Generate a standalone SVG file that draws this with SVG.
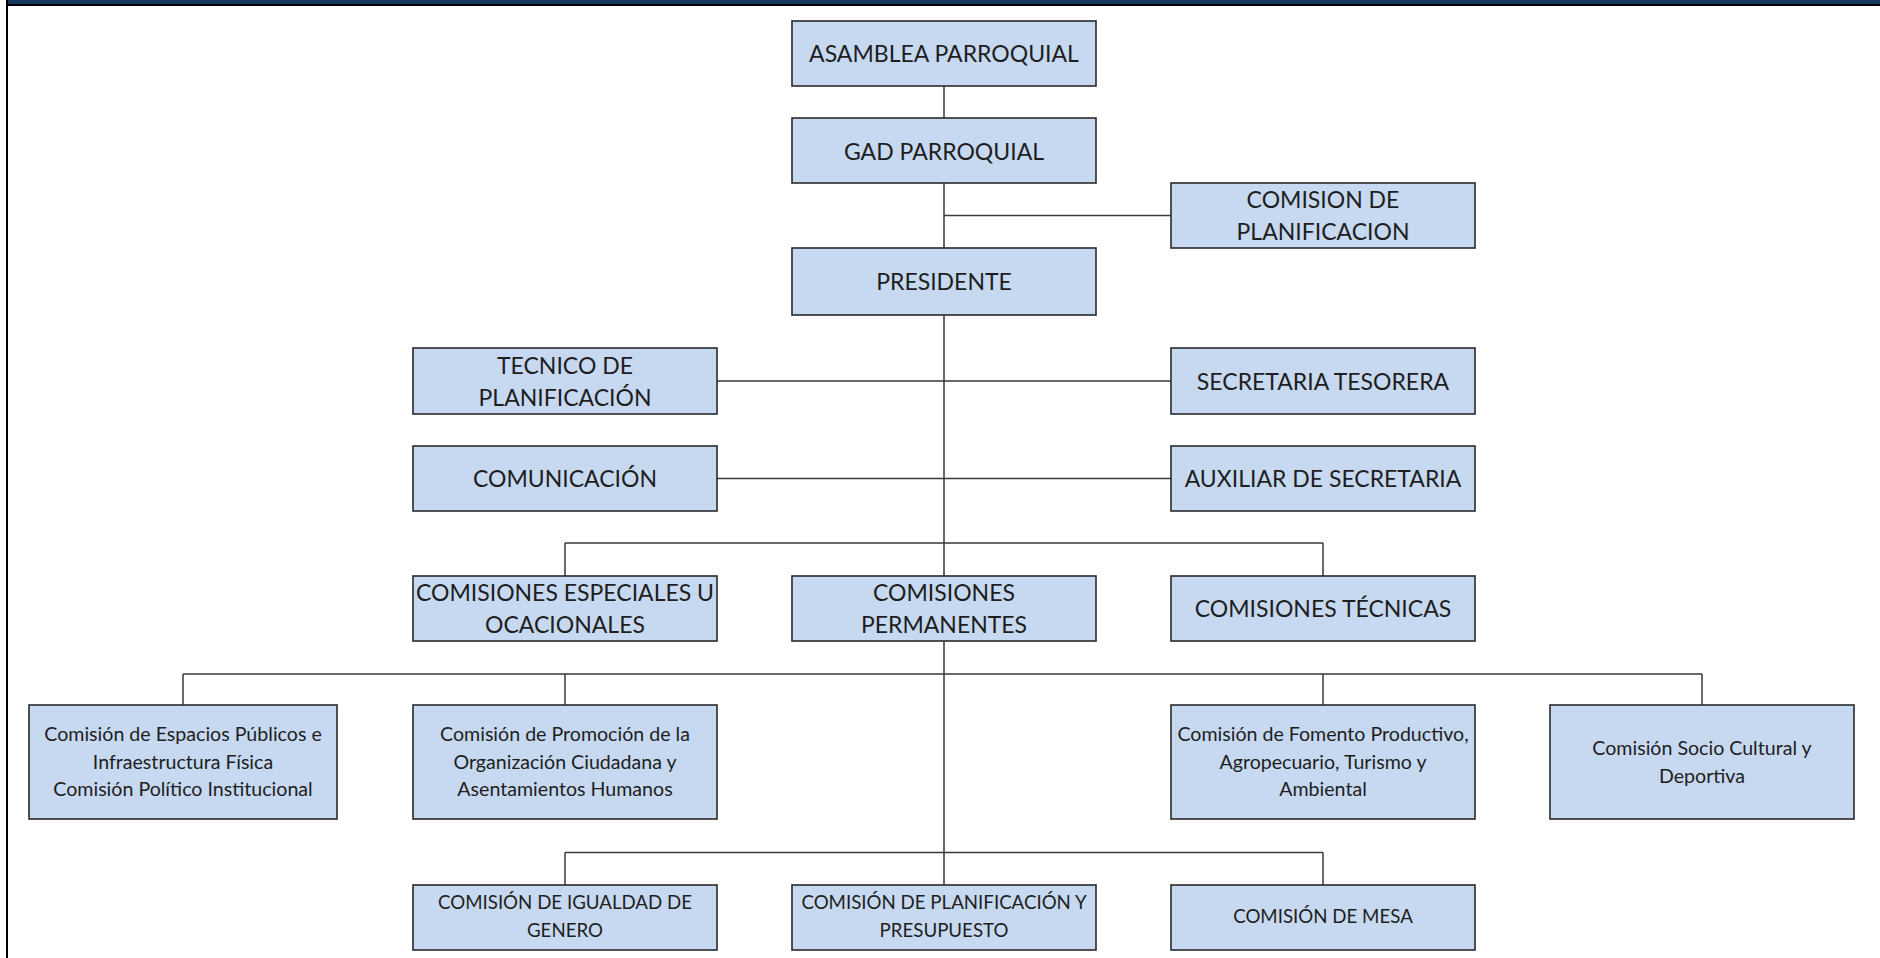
<svg xmlns="http://www.w3.org/2000/svg" width="1880" height="958" viewBox="0 0 1880 958">
<style>
.box{fill:#C6D9F1;stroke:#2a2a2a;stroke-width:1.6}
.ln{stroke:#3a3a3a;stroke-width:1.5;fill:none}
.t{font-family:Lato,"Open Sans","Liberation Sans",sans-serif;fill:#1e1e1e;text-anchor:middle}
.big{font-size:23px}
.sm{font-size:19.6px}
.smc{font-size:18.7px}
</style>
<rect x="0" y="0" width="1880" height="958" fill="#ffffff"/>
<g id="frame">
<rect x="8" y="0" width="1872" height="4" fill="#17365D"/>
<rect x="6" y="4" width="1874" height="2" fill="#000000"/>
<rect x="6" y="0" width="2" height="958" fill="#000000"/>
</g>
<g id="connectors">
<path class="ln" d="M944 86V118M944 183V248M944 215.5H1171M944 315V576M717 381H1171M717 478.5H1171M565 543H1323M565 543V576M1323 543V576M944 641V885M183 674H1702M183 674V705M565 674V705M1323 674V705M1702 674V705M565 852.5H1323M565 852.5V885M1323 852.5V885"/>
</g>
<g id="asamblea"><rect class="box" x="792" y="21" width="304" height="65"/><text class="t big" x="944" y="61.7">ASAMBLEA PARROQUIAL</text></g>
<g id="gad"><rect class="box" x="792" y="118" width="304" height="65"/><text class="t big" x="944" y="159.5">GAD PARROQUIAL</text></g>
<g id="comision-planificacion"><rect class="box" x="1171" y="183" width="304" height="65"/><text class="t big" x="1323" y="208">COMISION DE</text><text class="t big" x="1323" y="240">PLANIFICACION</text></g>
<g id="presidente"><rect class="box" x="792" y="248" width="304" height="67"/><text class="t big" x="944" y="290">PRESIDENTE</text></g>
<g id="tecnico"><rect class="box" x="413" y="348" width="304" height="66"/><text class="t big" x="565" y="373.5">TECNICO DE</text><text class="t big" x="565" y="405.5">PLANIFICACIÓN</text></g>
<g id="secretaria"><rect class="box" x="1171" y="348" width="304" height="66"/><text class="t big" x="1323" y="389.5">SECRETARIA TESORERA</text></g>
<g id="comunicacion"><rect class="box" x="413" y="446" width="304" height="65"/><text class="t big" x="565" y="487">COMUNICACIÓN</text></g>
<g id="auxiliar"><rect class="box" x="1171" y="446" width="304" height="65"/><text class="t big" x="1323" y="487">AUXILIAR DE SECRETARIA</text></g>
<g id="especiales"><rect class="box" x="413" y="576" width="304" height="65"/><text class="t big" x="565" y="601">COMISIONES ESPECIALES U</text><text class="t big" x="565" y="633">OCACIONALES</text></g>
<g id="permanentes"><rect class="box" x="792" y="576" width="304" height="65"/><text class="t big" x="944" y="601">COMISIONES</text><text class="t big" x="944" y="633">PERMANENTES</text></g>
<g id="tecnicas"><rect class="box" x="1171" y="576" width="304" height="65"/><text class="t big" x="1323" y="617">COMISIONES TÉCNICAS</text></g>
<g id="espacios"><rect class="box" x="29" y="705" width="308" height="114"/><text class="t sm" x="183" y="741">Comisión de Espacios Públicos e</text><text class="t sm" x="183" y="768.5">Infraestructura Física</text><text class="t sm" x="183" y="796">Comisión Político Institucional</text></g>
<g id="promocion"><rect class="box" x="413" y="705" width="304" height="114"/><text class="t sm" x="565" y="741">Comisión de Promoción de la</text><text class="t sm" x="565" y="768.5">Organización Ciudadana y</text><text class="t sm" x="565" y="796">Asentamientos Humanos</text></g>
<g id="fomento"><rect class="box" x="1171" y="705" width="304" height="114"/><text class="t sm" x="1323" y="741">Comisión de Fomento Productivo,</text><text class="t sm" x="1323" y="768.5">Agropecuario, Turismo y</text><text class="t sm" x="1323" y="796">Ambiental</text></g>
<g id="socio"><rect class="box" x="1550" y="705" width="304" height="114"/><text class="t sm" x="1702" y="755">Comisión Socio Cultural y</text><text class="t sm" x="1702" y="783">Deportiva</text></g>
<g id="igualdad"><rect class="box" x="413" y="885" width="304" height="65"/><text class="t smc" x="565" y="908.5">COMISIÓN DE IGUALDAD DE</text><text class="t smc" x="565" y="937">GENERO</text></g>
<g id="presupuesto"><rect class="box" x="792" y="885" width="304" height="65"/><text class="t smc" x="944" y="908.5">COMISIÓN DE PLANIFICACIÓN Y</text><text class="t smc" x="944" y="937">PRESUPUESTO</text></g>
<g id="mesa"><rect class="box" x="1171" y="885" width="304" height="65"/><text class="t smc" x="1323" y="923">COMISIÓN DE MESA</text></g>
</svg>
